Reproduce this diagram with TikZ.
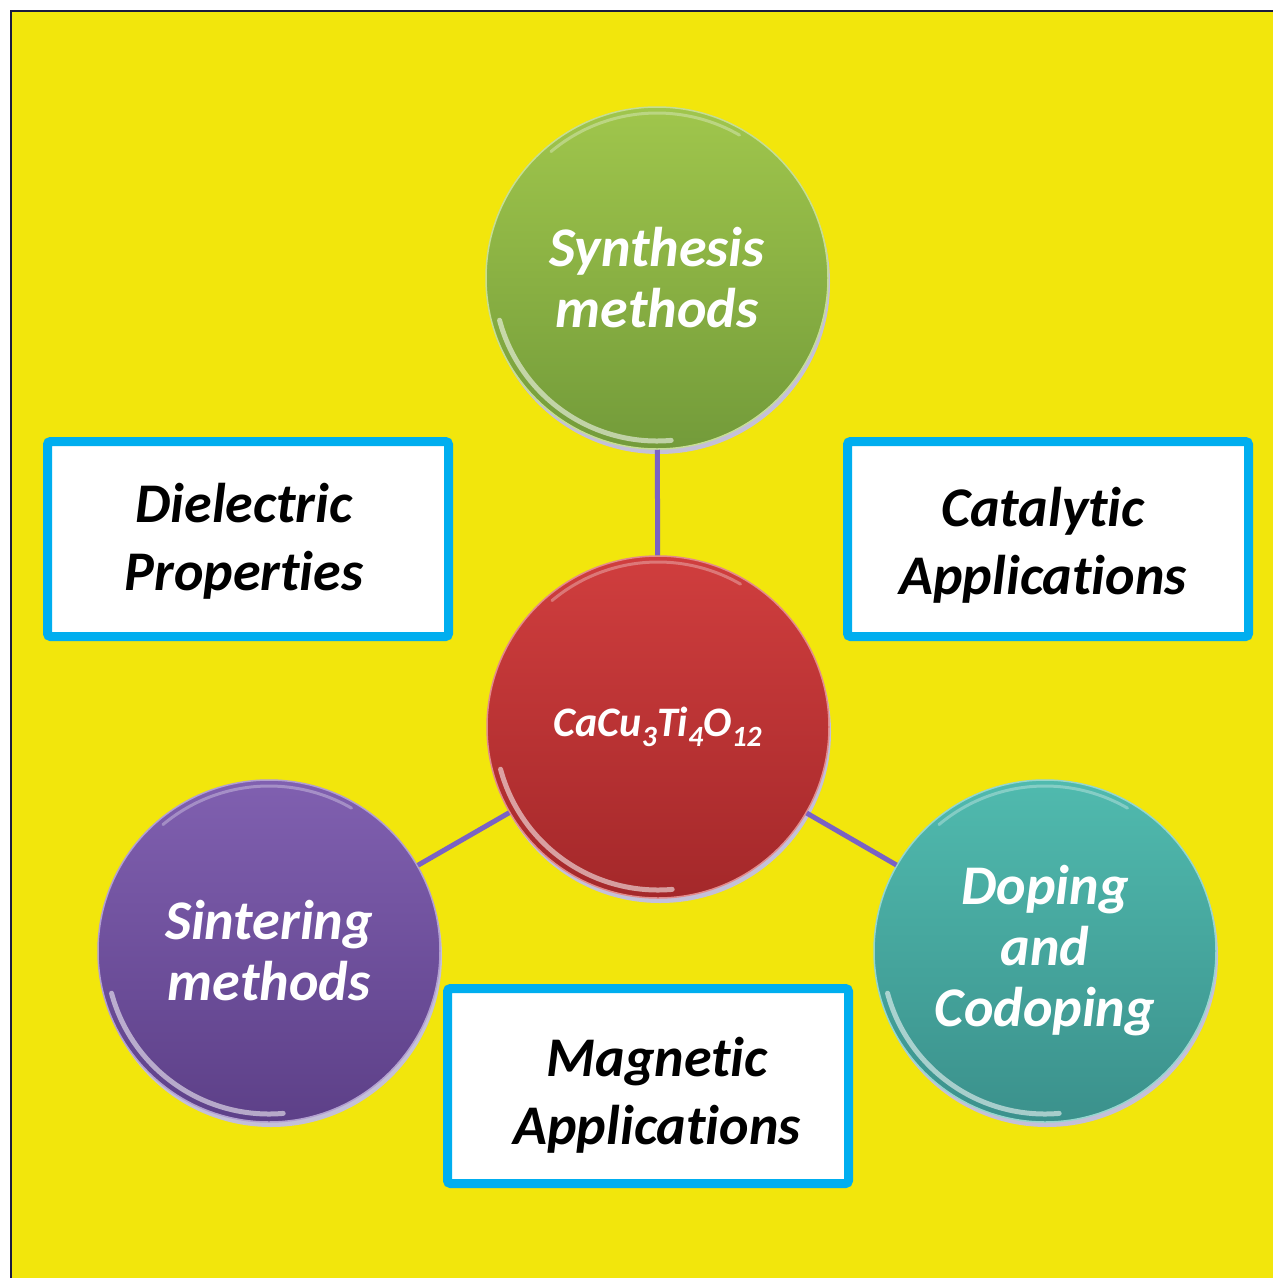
\documentclass[tikz,border=0pt]{standalone}
\usepackage{fontspec}
\setmainfont{Carlito}[Ligatures={NoCommon,NoDiscretionary,NoContextual}]
\definecolor{bgyellow}{HTML}{F2E60C}
\definecolor{frameline}{HTML}{1A1A40}
\definecolor{conncol}{HTML}{7A62C4}
\definecolor{boxcyan}{HTML}{00AEEF}
\definecolor{greentop}{HTML}{A0C64C}
\definecolor{greenbot}{HTML}{739B3A}
\definecolor{redtop}{HTML}{D03E3E}
\definecolor{redbot}{HTML}{A4282A}
\definecolor{purptop}{HTML}{8060B0}
\definecolor{purpbot}{HTML}{5D4088}
\definecolor{tealtop}{HTML}{50BAAE}
\definecolor{tealbot}{HTML}{3B918C}
\definecolor{shadowcol}{HTML}{C4C0D8}
\begin{document}
\begin{tikzpicture}[x=1pt,y=1pt,
  ball/.style={circle, minimum size=342pt, inner sep=0pt, align=center,
    text=white, font=\bfseries\itshape\fontsize{56}{61}\selectfont,
    line width=1.5pt,
    path picture={
      \draw[white, opacity=0.55, line width=5pt, line cap=round]
        (path picture bounding box.center) ++(195:163) arc[start angle=195, end angle=275, radius=163];
      \draw[white, opacity=0.3, line width=3pt, line cap=round]
        (path picture bounding box.center) ++(60:165) arc[start angle=60, end angle=130, radius=165];
    }},
  infobox/.style={rectangle, draw=boxcyan, line width=9pt, fill=white,
    rounded corners=3pt, minimum width=401pt, minimum height=195pt,
    inner sep=0pt},
  boxtext/.style={align=center, text=black,
    font=\bfseries\itshape\fontsize{56}{68}\selectfont},
  conn/.style={draw=conncol, line width=5pt}]
\useasboundingbox (0,0) rectangle (1273,-1278);
\fill[bgyellow] (11,-11) rectangle (1273,-1278);
\draw[frameline, line width=2pt] (11,-1278) -- (11,-11) -- (1273,-11);

% shadows
\fill[shadowcol] (659,-283) circle (171);
\fill[shadowcol] (660,-732) circle (171);
\fill[shadowcol] (271,-956) circle (171);
\fill[shadowcol] (1047,-956) circle (171);

% circles
\node[ball, top color=greentop, bottom color=greenbot, draw=greentop!60!white] (syn) at (657,-278) {Synthesis\\methods};
\node[ball, top color=redtop, bottom color=redbot, draw=redtop!60!white, font=\bfseries\itshape\fontsize{42}{44}\selectfont] (cen) at (658,-727) {CaCu\textsubscript{3}Ti\textsubscript{4}O\textsubscript{12}};
\node[ball, top color=purptop, bottom color=purpbot, draw=purptop!60!white] (sin) at (269,-951) {Sintering\\methods};
\node[ball, top color=tealtop, bottom color=tealbot, draw=tealtop!60!white] (dop) at (1045,-951) {Doping\\and\\Codoping};

% connectors
\draw[conn] (syn) -- (cen);
\draw[conn] (cen) -- (sin);
\draw[conn] (cen) -- (dop);

% boxes
\node[infobox, label={[boxtext, xshift=-4pt, yshift=-2pt]center:Dielectric\\Properties}] (die) at (248,-539) {};
\node[infobox, label={[boxtext, xshift=-5pt, yshift=-6pt]center:Catalytic\\Applications}] (cat) at (1048,-539) {};
\node[infobox, label={[boxtext, xshift=9pt, yshift=-9pt]center:Magnetic\\Applications}] (mag) at (648,-1086) {};
\end{tikzpicture}
\end{document}
